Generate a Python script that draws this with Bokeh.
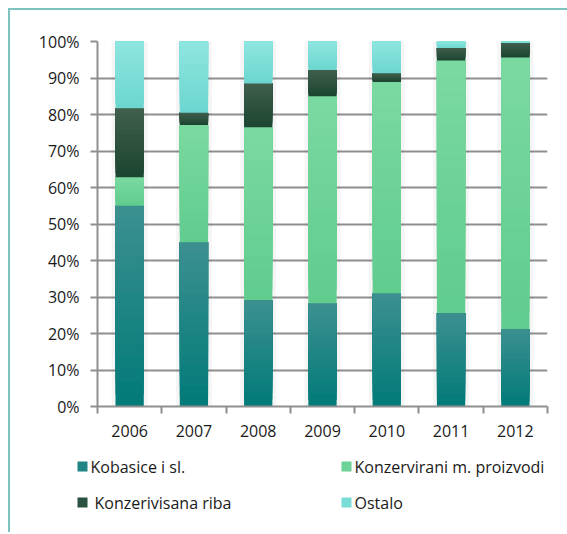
from bokeh.plotting import figure
from bokeh.models import (ColumnDataSource, FixedTicker, NumeralTickFormatter, Range1d)
from bokeh.layouts import column
from bokeh.core.properties import value
from bokeh.embed import file_html
from bokeh.resources import INLINE

years = ["2006", "2007", "2008", "2009", "2010", "2011", "2012"]
kobasice = [55.0, 45.0, 29.2, 28.3, 31.0, 25.6, 21.2]
konzervirani = [7.8, 32.1, 47.3, 56.7, 57.9, 69.2, 74.4]
riba = [18.9, 3.4, 12.0, 7.2, 2.4, 3.4, 4.0]
ostalo = [18.3, 19.5, 11.5, 7.8, 8.7, 1.8, 0.4]

series_names = ["Kobasice i sl.", "Konzervirani m. proizvodi", "Konzerivisana riba", "Ostalo"]
series_values = [kobasice, konzervirani, riba, ostalo]
# (bottom colour, top colour) of each series' gradient
grad_bottom = ["#007a78", "#5fcc8d", "#1b4530", "#6cd6d0"]
grad_top = ["#3d9090", "#7bd9a1", "#405f4d", "#8ee6df"]
legend_colors = ["#1e8584", "#6dd298", "#2b5140", "#7adcd6"]
y_ticks = [0, 0.1, 0.2, 0.3, 0.4, 0.5, 0.6, 0.7, 0.8, 0.9, 1.0]


def hex2rgb(h):
    return tuple(int(h[i:i + 2], 16) for i in (1, 3, 5))


def mix(c1, c2, t):
    a, b = hex2rgb(c1), hex2rgb(c2)
    return "#%02x%02x%02x" % tuple(round(a[i] + (b[i] - a[i]) * t) for i in range(3))


xpos = [i + 0.5 for i in range(len(years))]
totals = [sum(vals[i] for vals in series_values) / 100 for i in range(len(years))]

# gradient: overlapping bands, each from its own start up to the segment's top,
# drawn dark -> light so that every later band covers the upper part
NB = 16
bx, bb, bt, bc = [], [], [], []
for i, x in enumerate(xpos):
    base = 0.0
    for s, vals in enumerate(series_values):
        h = vals[i] / 100
        for k in range(NB):
            bx.append(x)
            bb.append(base + h * k / NB)
            bt.append(base + h)
            bc.append(mix(grad_bottom[s], grad_top[s], (k + 0.5) / NB))
        base += h
band_src = ColumnDataSource(dict(x=bx, bottom=bb, top=bt, color=bc))
shadow_src = ColumnDataSource(dict(x=xpos, top=totals))

FONT = "Open Sans"
GRID = "#8f8f8f"
TEXT = "#1a1a1a"

p = figure(frame_width=450, frame_height=365, output_backend="svg", toolbar_location=None,
           x_range=Range1d(0, len(years)), y_range=Range1d(0, 1),
           min_border_left=87, min_border_right=20, min_border_top=31, min_border_bottom=40)
p.outline_line_color = None
p.background_fill_color = "white"
p.border_fill_color = "white"

# soft shadow behind bars
p.vbar(x="x", top="top", bottom=0, width=0.56, source=shadow_src,
       fill_color="black", fill_alpha=0.04, line_color=None)

p.vbar(x="x", bottom="bottom", top="top", width=0.44, source=band_src,
       fill_color="color", line_color=None)

p.xaxis.ticker = FixedTicker(ticks=xpos, minor_ticks=list(range(len(years) + 1)))
p.xaxis.major_label_overrides = {x: y for x, y in zip(xpos, years)}
p.xaxis.major_tick_out = 0
p.xaxis.major_tick_in = 0
p.xaxis.minor_tick_out = 7
p.xaxis.minor_tick_in = 0
p.xaxis.minor_tick_line_color = GRID
p.xaxis.minor_tick_line_width = 2
p.xaxis.axis_line_color = GRID
p.xaxis.axis_line_width = 2
p.xaxis.major_label_standoff = 11

p.yaxis.ticker = FixedTicker(ticks=y_ticks, minor_ticks=[])
p.yaxis.formatter = NumeralTickFormatter(format="0%")
p.yaxis.major_tick_out = 7
p.yaxis.major_tick_in = 0
p.yaxis.major_tick_line_color = GRID
p.yaxis.major_tick_line_width = 2
p.yaxis.axis_line_color = GRID
p.yaxis.axis_line_width = 2
p.yaxis.major_label_standoff = 11

for ax in (p.xaxis, p.yaxis):
    ax.major_label_text_font = FONT
    ax.major_label_text_font_size = "16px"
    ax.major_label_text_color = TEXT

p.xgrid.grid_line_color = None
p.ygrid.ticker = FixedTicker(ticks=y_ticks)
p.ygrid.grid_line_color = GRID
p.ygrid.grid_line_width = 2

# legend panel (pixel-like coordinates, y pointing down)
LW, LH = 557, 86
q = figure(width=LW, height=LH, output_backend="svg", toolbar_location=None,
           x_range=Range1d(0, LW), y_range=Range1d(LH, 0),
           min_border=0, x_axis_location=None, y_axis_location=None)
q.frame_align = False
q.outline_line_color = None
q.grid.visible = False
q.border_fill_color = "white"
q.background_fill_color = "white"

leg_src = ColumnDataSource(dict(
    sx=[72, 336, 72, 336],
    sy=[20, 20, 56, 56],
    tx=[80, 344, 84, 344],
    name=series_names,
    color=legend_colors,
))
q.rect(x="sx", y="sy", width=10, height=10, fill_color="color", line_color=None, source=leg_src)
q.text(x="tx", y="sy", text="name", source=leg_src, text_font=value(FONT),
       text_baseline="middle", text_align="left", text_font_size="16px", text_color=TEXT)

layout = column(p, q, spacing=0,
                styles={"margin-left": "8px", "margin-top": "8px",
                        "border-left": "2px solid #7cc4c0", "border-top": "2px solid #7cc4c0"})

open("out.html", "w").write(file_html(layout, INLINE))
